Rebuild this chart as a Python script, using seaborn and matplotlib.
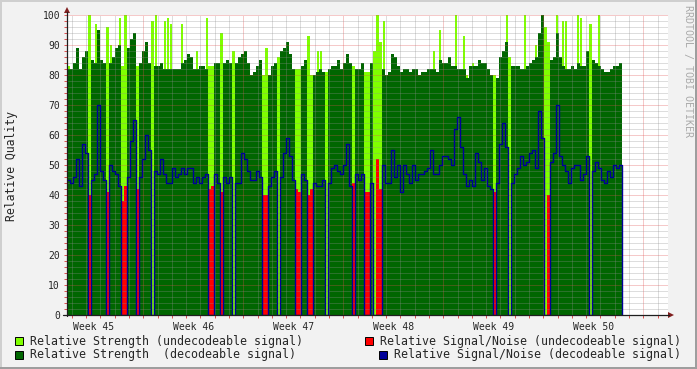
import numpy as np
import pandas as pd
import matplotlib
matplotlib.use("Agg")
import matplotlib.pyplot as plt
import seaborn as sns
from matplotlib.patches import Rectangle, Polygon
from matplotlib.lines import Line2D

# ---------------- data (one sample = 0.21 day) ----------------
dec_strength = [
    82, 82, 84, 89, 82, 86, 88, 0, 85, 84,
    95, 85, 84, 0, 84, 86, 89, 90, 0, 0,
    89, 92, 94, 0, 84, 88, 91, 84, 0, 83,
    83, 84, 82, 82, 82, 82, 82, 82, 84, 85,
    87, 86, 82, 82, 83, 83, 82, 0, 0, 84,
    84, 0, 84, 85, 84, 0, 84, 86, 87, 88,
    84, 80, 81, 83, 85, 0, 0, 80, 83, 84,
    0, 88, 89, 91, 87, 82, 0, 0, 83, 85,
    0, 0, 80, 81, 82, 81, 0, 82, 83, 83,
    85, 82, 84, 87, 84, 0, 82, 82, 84, 0,
    0, 84, 0, 0, 0, 82, 80, 81, 87, 86,
    83, 81, 82, 82, 81, 82, 82, 80, 81, 81,
    82, 82, 82, 81, 85, 84, 84, 86, 83, 83,
    82, 82, 82, 79, 83, 83, 83, 85, 84, 84,
    82, 80, 0, 79, 86, 88, 91, 0, 83, 83,
    83, 82, 82, 83, 84, 85, 86, 94, 100, 0,
    0, 85, 86, 94, 86, 83, 82, 82, 83, 82,
    84, 83, 83, 88, 0, 85, 84, 83, 82, 81,
    81, 82, 83, 83, 84,
]
dec_snr = [
    45, 44, 46, 52, 43, 57, 54, 0, 45, 47,
    70, 48, 45, 0, 50, 48, 47, 43, 0, 0,
    46, 58, 65, 0, 46, 52, 60, 55, 0, 48,
    47, 52, 47, 44, 44, 49, 46, 47, 49, 47,
    49, 49, 44, 46, 44, 46, 47, 0, 0, 47,
    44, 0, 46, 44, 46, 0, 44, 44, 54, 52,
    48, 45, 45, 48, 46, 0, 0, 43, 46, 48,
    0, 46, 54, 59, 53, 45, 0, 0, 47, 45,
    0, 0, 44, 43, 43, 45, 0, 44, 49, 50,
    48, 47, 50, 57, 43, 0, 47, 45, 47, 0,
    0, 44, 0, 0, 0, 50, 44, 44, 55, 46,
    50, 41, 50, 47, 44, 50, 45, 47, 47, 48,
    49, 55, 47, 47, 50, 53, 53, 52, 50, 62,
    66, 56, 47, 43, 45, 43, 54, 51, 45, 49,
    43, 42, 0, 44, 57, 64, 56, 0, 44, 47,
    49, 53, 50, 51, 54, 55, 49, 68, 59, 0,
    0, 51, 54, 70, 53, 50, 48, 44, 49, 50,
    50, 45, 47, 53, 0, 48, 51, 49, 45, 44,
    48, 46, 50, 49, 50,
]
und_idx = [0, 7, 9, 13, 14, 17, 18, 19, 23, 28, 29, 32, 33, 34, 38, 43, 46, 47, 48, 51,
           55, 65, 66, 70, 76, 77, 80, 81, 83, 84, 86, 95, 99, 100, 102, 103, 104, 105,
           122, 124, 129, 132, 133, 135, 142, 146, 147, 152, 156, 159, 160, 163, 165,
           166, 170, 171, 174, 177]
und_strength_vals = [83, 100, 97, 96, 90, 99, 83, 100, 83, 98, 100, 98, 99, 97, 97, 88, 99,
                     83, 83, 94, 88, 80, 89, 86, 82, 82, 93, 80, 88, 88, 81, 83, 81, 81, 88,
                     100, 91, 98, 88, 95, 100, 93, 80, 84, 80, 100, 86, 100, 90, 96, 91, 100,
                     98, 98, 100, 99, 97, 100]
und_snr_vals = [0, 40, 0, 41, 0, 0, 38, 43, 42, 0, 0, 0, 0, 0, 0, 0, 0, 42, 43, 41,
                0, 40, 40, 0, 42, 41, 40, 42, 0, 0, 0, 44, 41, 41, 0, 52, 42, 0, 0, 0,
                0, 0, 0, 0, 41, 0, 0, 0, 0, 0, 40, 0, 0, 0, 0, 0, 0, 0]
week_labels = ["Week 45", "Week 46", "Week 47", "Week 48", "Week 49", "Week 50"]
legend_labels = [
    "Relative Strength (undecodeable signal)",
    "Relative Strength  (decodeable signal)",
    "Relative Signal/Noise (undecodeable signal)",
    "Relative Signal/Noise (decodeable signal)",
]

# ---------------- style ----------------
LIGHT, DARK, RED, BLUE = "#80FF00", "#006600", "#FF0000", "#000099"
BACK, SHADEA, SHADEB = "#F2F2F2", "#CFCFCF", "#9E9E9E"
GRID, MGRID, ARROW, AXIS = "#8F8F8F", "#DE4F4F", "#801F1F", "#1F1F1F"

sns.set_theme(style="white")
plt.rcParams["font.family"] = ["DejaVu Sans Mono", "DejaVu Sans"]
plt.rcParams["lines.scale_dashes"] = False

W, H = 697, 369
fig = plt.figure(figsize=(W / 100, H / 100), dpi=100, facecolor=BACK)
fx = lambda x: x / W
fy = lambda y: 1 - y / H
ax = fig.add_axes([fx(67), fy(315), 601 / W, 300 / H])
ax.set_facecolor("white")

DAY_PER_SAMPLE = 0.21
n = len(dec_strength)
edges = np.arange(n + 1) * DAY_PER_SAMPLE
dec_s = np.asarray(dec_strength, float)
und_s = np.zeros(n); und_s[und_idx] = und_strength_vals
und_n = np.zeros(n); und_n[und_idx] = und_snr_vals
ext = lambda a: np.append(np.asarray(a, float), a[-1])

# full undecodeable columns (no decodeable signal in the sample)
full_col = np.where(dec_s == 0, und_s, 0)
ax.fill_between(edges, ext(full_col), step="post", color=LIGHT, lw=0, zorder=1)
# short undecodeable bursts inside a decodeable sample -> thin spikes
spike = (und_s > 0) & (dec_s > 0)
centers = edges[:-1] + DAY_PER_SAMPLE / 2
ax.bar(centers[spike], und_s[spike], width=0.14, color=LIGHT, lw=0, zorder=1.05)
ax.fill_between(edges, ext(dec_s), step="post", color=DARK, lw=0, zorder=1.1)
ax.fill_between(edges, ext(und_n), step="post", color=RED, lw=0, zorder=1.2)
df = pd.DataFrame({"t": edges, "snr": np.append(np.asarray(dec_snr, float), 0)})
sns.lineplot(data=df, x="t", y="snr", drawstyle="steps-post", color=BLUE, lw=1.0,
             ax=ax, estimator=None, zorder=3)

XMAX = 601 * 0.07
ax.set_xlim(0, XMAX)
ax.set_ylim(0, 100)

# grid (drawn over the data, as rrdtool does)
day0 = 0.336
days = day0 + np.arange(0, 42)
weeks = day0 + 5 + 7 * np.arange(6)
for d in days:
    if not np.any(np.isclose(d, weeks)):
        ax.axvline(d, color=GRID, alpha=0.6, lw=0.72, dashes=(0.72, 0.72), zorder=2.5)
for w in weeks:
    ax.axvline(w, color=MGRID, alpha=0.6, lw=0.72, dashes=(0.72, 0.72), zorder=2.5)
for y in range(2, 101, 2):
    if y % 10:
        ax.axhline(y, color=GRID, alpha=0.6, lw=0.72, dashes=(0.72, 0.72), zorder=2.5)
for y in range(10, 101, 10):
    ax.axhline(y, color=MGRID, alpha=0.6, lw=0.72, dashes=(0.72, 0.72), zorder=2.5)

for s in ax.spines.values():
    s.set_visible(False)
label_pos = weeks - 3.5
ax.set_xticks(label_pos)
ax.set_xticklabels(week_labels)
ax.set_xticks(days, minor=True)
ax.set_yticks(range(0, 101, 10))
ax.set_yticks(range(0, 101, 2), minor=True)
ax.tick_params(axis="x", which="major", length=0, pad=5, labelsize=7)
ax.tick_params(axis="x", which="minor", length=2, color=MGRID, width=0.7, bottom=True)
ax.tick_params(axis="y", which="both", length=2, color=MGRID, width=0.7, left=True,
               pad=3, labelsize=7)
ax.set_xlabel("")
ax.set_ylabel("")

# axis lines and arrows
fig.add_artist(Line2D([fx(67), fx(67)], [fy(316), fy(12)], color=AXIS, lw=0.9))
fig.add_artist(Line2D([fx(63), fx(669)], [fy(315), fy(315)], color=AXIS, lw=0.9))
fig.add_artist(Polygon([[fx(64), fy(13)], [fx(70), fy(13)], [fx(67), fy(7)]],
                       closed=True, color=ARROW, lw=0))
fig.add_artist(Polygon([[fx(668), fy(312)], [fx(668), fy(318)], [fx(674), fy(315)]],
                       closed=True, color=ARROW, lw=0))

# labels
fig.text(fx(12), fy(166), "Relative Quality", rotation=90, va="center", ha="center",
         fontsize=8.3)
fig.text(fx(688), fy(5), "RRDTOOL / TOBI OETIKER", rotation=270, va="top", ha="center",
         fontsize=7.2, color="#AAAAAA")

# legend
leg = [(15, 341, LIGHT, legend_labels[0]), (15, 354.5, DARK, legend_labels[1]),
       (365, 341, RED, legend_labels[2]), (379, 354.5, BLUE, legend_labels[3])]
for x, yc, c, lab in leg:
    fig.add_artist(Rectangle((fx(x), fy(yc + 4)), 8 / W, 8 / H, facecolor=c,
                             edgecolor="black", lw=0.7))
    fig.text(fx(x + 15), fy(yc), lab, va="center", ha="left", fontsize=8.35)

# image frame
fig.add_artist(Rectangle((0, 1 - 2 / H), 1, 2 / H, color=SHADEA, lw=0))
fig.add_artist(Rectangle((0, 0), 2 / W, 1, color=SHADEA, lw=0))
fig.add_artist(Rectangle((0, 0), 1, 2 / H, color=SHADEB, lw=0))
fig.add_artist(Rectangle((1 - 2 / W, 0), 2 / W, 1, color=SHADEB, lw=0))

fig.savefig("out.png", dpi=100, facecolor=BACK)
